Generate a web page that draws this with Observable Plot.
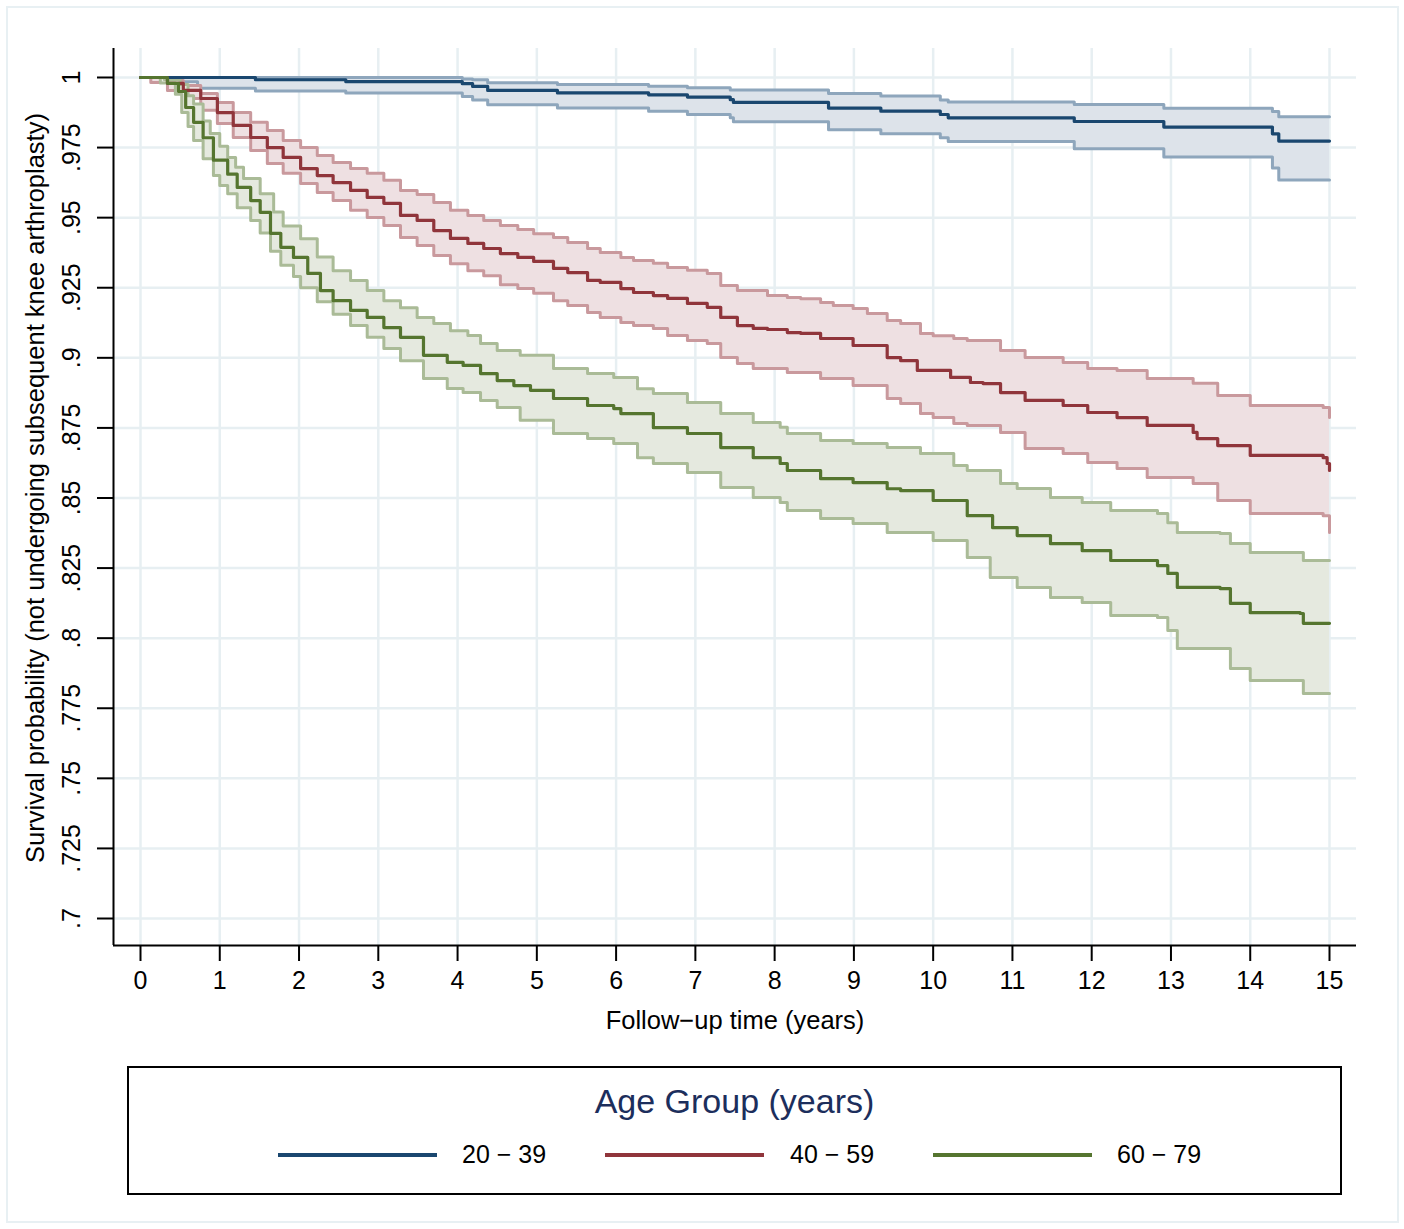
<!DOCTYPE html>
<html><head><meta charset="utf-8">
<script src="https://cdn.jsdelivr.net/npm/d3@7"></script>
<script src="https://cdn.jsdelivr.net/npm/@observablehq/plot@0.6"></script>
<style>
body{margin:0;background:#fff;font-family:"Liberation Sans",Arial,Helvetica,sans-serif;}
#wrap{position:relative;width:1404px;height:1229px;overflow:hidden;background:#fff;}
#chart{position:absolute;left:0;top:0;}
#frame{position:absolute;left:6px;top:6px;width:1393px;height:1217px;border:2px solid #e8f0f3;box-sizing:border-box;pointer-events:none;}
#legend{position:absolute;left:127px;top:1066px;width:1215px;height:129px;border:2px solid #000;box-sizing:border-box;}
#legend .title{position:absolute;left:0;top:16px;width:100%;text-align:center;font-size:34px;line-height:34px;color:#1c2e5c;}
#legend .sw{position:absolute;height:4px;top:85px;width:159px;}
#legend .lab{position:absolute;top:74px;font-size:25px;line-height:25px;color:#000;white-space:nowrap;}
</style>
</head><body>
<div id="wrap">
  <div id="chart"></div>
  <div id="legend"></div>
  <div id="frame"></div>
</div>
<script>
// ---------- data ----------
const groups = ["20 \u2212 39", "40 \u2212 59", "60 \u2212 79"];
const legendTitle = "Age Group (years)";
const xLabel = "Follow\u2212up time (years)";
const yLabel = "Survival probability (not undergoing subsequent knee arthroplasty)";
const xTicks = [0,1,2,3,4,5,6,7,8,9,10,11,12,13,14,15];
const yTicks = [0.7,0.725,0.75,0.775,0.8,0.825,0.85,0.875,0.9,0.925,0.95,0.975,1];
const yTickLabels = [".7",".725",".75",".775",".8",".825",".85",".875",".9",".925",".95",".975","1"];

// [time (years), survival]
const blueMain = [[0,1],[1.45,0.9992],[2.59,0.9985],[4.06,0.9978],[4.19,0.9968],[4.38,0.9954],[5.26,0.9945],[6.41,0.9938],[6.90,0.9930],[7.44,0.9921],[7.48,0.9911],[8.68,0.9891],[9.34,0.9880],[10.09,0.9868],[10.19,0.9856],[11.78,0.9843],[12.91,0.9823],[14.28,0.9799],[14.36,0.9773],[15,0.9773]];
const blueUpper = [[0,1],[4.06,0.9995],[4.19,0.9992],[4.38,0.9981],[5.26,0.9975],[6.41,0.9969],[6.90,0.9963],[7.44,0.9955],[8.68,0.9943],[9.34,0.9934],[10.09,0.9920],[10.19,0.9913],[11.78,0.9904],[12.91,0.9890],[14.28,0.9879],[14.36,0.9860],[15,0.9860]];
const blueLower = [[0,1],[0.3,0.9985],[0.72,0.9962],[1.45,0.9952],[2.59,0.9945],[4.06,0.9932],[4.19,0.9920],[4.38,0.9903],[5.26,0.9891],[6.41,0.9880],[6.90,0.9868],[7.44,0.9856],[7.48,0.9842],[8.68,0.9814],[9.34,0.9799],[10.09,0.9785],[10.19,0.9772],[11.78,0.9746],[12.91,0.9716],[14.28,0.9677],[14.36,0.9634],[15,0.9634]];

const redMain = [[0,1],[0.34,0.9979],[0.54,0.9954],[0.76,0.9925],[0.97,0.9875],[1.17,0.9829],[1.39,0.9786],[1.60,0.9750],[1.80,0.9715],[2.02,0.9675],[2.23,0.9650],[2.43,0.9625],[2.65,0.9597],[2.86,0.9572],[3.07,0.9551],[3.28,0.9508],[3.49,0.9490],[3.70,0.9454],[3.91,0.9426],[4.13,0.9408],[4.33,0.9390],[4.54,0.9372],[4.76,0.9358],[4.96,0.9344],[5.21,0.9319],[5.39,0.9304],[5.64,0.9276],[5.80,0.9269],[6.06,0.9247],[6.22,0.9233],[6.47,0.9222],[6.65,0.9212],[6.90,0.9194],[7.15,0.9180],[7.32,0.9144],[7.53,0.9115],[7.73,0.9105],[7.91,0.9101],[8.16,0.9090],[8.33,0.9087],[8.58,0.9069],[8.99,0.9044],[9.42,0.9001],[9.59,0.8990],[9.80,0.8955],[10.22,0.8930],[10.47,0.8912],[10.63,0.8908],[10.85,0.8876],[11.16,0.8848],[11.64,0.8830],[11.95,0.8805],[12.32,0.8787],[12.70,0.8759],[13.28,0.8734],[13.33,0.8712],[13.59,0.8687],[14.00,0.8652],[14.92,0.8644],[14.97,0.8623],[15,0.8598]];
const redUpper = [[0,1],[0.34,0.9989],[0.54,0.9971],[0.76,0.9943],[0.97,0.9911],[1.17,0.9875],[1.39,0.9840],[1.60,0.9811],[1.80,0.9775],[2.02,0.9750],[2.23,0.9722],[2.43,0.9697],[2.65,0.9675],[2.86,0.9658],[3.07,0.9633],[3.28,0.9597],[3.49,0.9583],[3.70,0.9554],[3.91,0.9526],[4.13,0.9508],[4.33,0.9490],[4.54,0.9472],[4.76,0.9458],[4.96,0.9443],[5.21,0.9429],[5.39,0.9411],[5.64,0.9390],[5.80,0.9376],[6.06,0.9358],[6.22,0.9347],[6.47,0.9337],[6.65,0.9322],[6.90,0.9312],[7.15,0.9301],[7.32,0.9258],[7.53,0.9240],[7.91,0.9222],[8.16,0.9215],[8.33,0.9211],[8.58,0.9197],[8.74,0.9187],[8.99,0.9176],[9.17,0.9158],[9.42,0.9133],[9.59,0.9122],[9.84,0.9087],[10.00,0.9079],[10.26,0.9069],[10.43,0.9062],[10.85,0.9026],[11.16,0.9001],[11.64,0.8983],[11.95,0.8962],[12.32,0.8955],[12.70,0.8926],[13.28,0.8909],[13.59,0.8866],[14.00,0.8830],[14.92,0.8823],[15,0.8787]];
const redLower = [[0,1],[0.13,0.9982],[0.34,0.9954],[0.54,0.9925],[0.76,0.9883],[0.97,0.9836],[1.17,0.9786],[1.39,0.9740],[1.60,0.9693],[1.80,0.9658],[2.02,0.9622],[2.23,0.9590],[2.43,0.9561],[2.65,0.9526],[2.86,0.9501],[3.07,0.9472],[3.28,0.9429],[3.49,0.9401],[3.70,0.9365],[3.91,0.9336],[4.13,0.9311],[4.33,0.9293],[4.54,0.9261],[4.76,0.9247],[4.96,0.9230],[5.21,0.9204],[5.39,0.9187],[5.64,0.9162],[5.80,0.9144],[6.06,0.9126],[6.22,0.9115],[6.47,0.9105],[6.65,0.9080],[6.90,0.9062],[7.15,0.9051],[7.32,0.9001],[7.53,0.8980],[7.73,0.8962],[8.16,0.8948],[8.58,0.8926],[8.99,0.8901],[9.42,0.8855],[9.59,0.8837],[9.84,0.8801],[10.00,0.8787],[10.26,0.8766],[10.43,0.8759],[10.85,0.8734],[11.16,0.8677],[11.64,0.8659],[11.95,0.8627],[12.32,0.8605],[12.70,0.8573],[13.28,0.8552],[13.59,0.8491],[14.00,0.8445],[14.92,0.8437],[15,0.8377]];

const greenMain = [[0,1],[0.34,0.9979],[0.48,0.9950],[0.57,0.9893],[0.67,0.9840],[0.79,0.9785],[0.92,0.9705],[1.10,0.9655],[1.22,0.9608],[1.39,0.9561],[1.51,0.9519],[1.64,0.9444],[1.77,0.9394],[1.93,0.9358],[2.11,0.9301],[2.27,0.9240],[2.43,0.9204],[2.65,0.9169],[2.86,0.9144],[3.07,0.9108],[3.28,0.9073],[3.57,0.9009],[3.87,0.8984],[4.07,0.8973],[4.29,0.8944],[4.50,0.8919],[4.71,0.8901],[4.92,0.8884],[5.21,0.8855],[5.64,0.8830],[5.97,0.8819],[6.06,0.8801],[6.47,0.8751],[6.90,0.8730],[7.32,0.8680],[7.73,0.8644],[8.07,0.8623],[8.16,0.8598],[8.58,0.8569],[8.99,0.8555],[9.42,0.8533],[9.59,0.8526],[10.00,0.8491],[10.43,0.8437],[10.75,0.8394],[11.06,0.8366],[11.48,0.8337],[11.88,0.8312],[12.24,0.8277],[12.83,0.8259],[12.96,0.8231],[13.08,0.8181],[13.62,0.8177],[13.75,0.8124],[14.00,0.8091],[14.63,0.8088],[14.67,0.8053],[15,0.8053]];
const greenUpper = [[0,1],[0.3,0.9993],[0.5,0.9975],[0.6,0.9935],[0.67,0.9905],[0.79,0.9845],[0.88,0.9800],[1.0,0.9755],[1.10,0.9715],[1.2,0.9680],[1.30,0.9640],[1.51,0.9585],[1.68,0.9520],[1.80,0.9470],[2.02,0.9425],[2.23,0.9360],[2.43,0.9311],[2.65,0.9276],[2.86,0.9240],[3.07,0.9204],[3.28,0.9179],[3.49,0.9144],[3.70,0.9122],[3.91,0.9097],[4.13,0.9080],[4.29,0.9051],[4.50,0.9026],[4.79,0.9009],[5.21,0.8962],[5.64,0.8944],[5.97,0.8930],[6.27,0.8890],[6.47,0.8873],[6.90,0.8841],[7.32,0.8801],[7.73,0.8769],[8.07,0.8752],[8.16,0.8730],[8.58,0.8705],[8.99,0.8694],[9.42,0.8680],[9.84,0.8659],[10.26,0.8616],[10.43,0.8598],[10.85,0.8552],[11.06,0.8534],[11.48,0.8502],[11.88,0.8484],[12.24,0.8455],[12.83,0.8445],[12.96,0.8412],[13.08,0.8377],[13.62,0.8373],[13.75,0.8338],[14.00,0.8306],[14.67,0.8277],[15,0.8277]];
const greenLower = [[0,1],[0.25,0.9980],[0.44,0.9940],[0.52,0.9875],[0.6,0.9825],[0.67,0.9775],[0.79,0.9710],[0.92,0.9650],[1.0,0.9615],[1.10,0.9585],[1.22,0.9535],[1.39,0.9490],[1.51,0.9445],[1.64,0.9380],[1.77,0.9330],[1.93,0.9290],[2.02,0.9250],[2.23,0.9200],[2.43,0.9155],[2.65,0.9115],[2.86,0.9073],[3.07,0.9033],[3.28,0.8990],[3.57,0.8926],[3.87,0.8891],[4.07,0.8876],[4.29,0.8848],[4.50,0.8823],[4.79,0.8777],[5.21,0.8730],[5.64,0.8712],[5.97,0.8694],[6.27,0.8644],[6.47,0.8623],[6.90,0.8591],[7.32,0.8537],[7.73,0.8502],[8.07,0.8484],[8.16,0.8455],[8.58,0.8427],[8.99,0.8409],[9.42,0.8377],[10.00,0.8348],[10.43,0.8288],[10.72,0.8216],[11.06,0.8181],[11.48,0.8145],[11.88,0.8127],[12.24,0.8081],[12.83,0.8074],[12.96,0.8027],[13.08,0.7963],[13.62,0.7963],[13.75,0.7892],[14.00,0.7849],[14.67,0.7803],[15,0.7803]];

// ---------- styling ----------
const colors = {
  blue:  {main:"#1a476f", ci:"#8ea6bc", fill:"#dde3ea"},
  red:   {main:"#90353b", ci:"#c9999d", fill:"#eee0e2"},
  green: {main:"#55752f", ci:"#aabb97", fill:"#e5e9df"}
};
const gridColor = "#e7eff2";
const xDomain = [-0.3406, 15.3406];
const yDomain = [0.69037, 1.01034];

function stepAt(s, t){ let v = s[0][1]; for (const [tt,vv] of s){ if (tt <= t) v = vv; else break; } return v; }
function band(lo, hi){
  const ts = Array.from(new Set([...lo.map(d=>d[0]), ...hi.map(d=>d[0])])).sort((a,b)=>a-b);
  return ts.map(t => ({t, lo: stepAt(lo,t), hi: stepAt(hi,t)}));
}
const series = [
  {c: colors.blue,  main: blueMain,  lo: blueLower,  hi: blueUpper},
  {c: colors.red,   main: redMain,   lo: redLower,   hi: redUpper},
  {c: colors.green, main: greenMain, lo: greenLower, hi: greenUpper}
];

const marks = [
  Plot.gridX(xTicks, {stroke: gridColor, strokeOpacity: 1, strokeWidth: 2.5}),
  Plot.gridY(yTicks, {stroke: gridColor, strokeOpacity: 1, strokeWidth: 2.5}),
];
for (const s of series){
  marks.push(Plot.areaY(band(s.lo, s.hi), {x:"t", y1:"lo", y2:"hi", fill: s.c.fill, curve:"step-after"}));
  marks.push(Plot.line(s.hi, {x: d=>d[0], y: d=>d[1], stroke: s.c.ci, strokeWidth: 3, curve:"step-after"}));
  marks.push(Plot.line(s.lo, {x: d=>d[0], y: d=>d[1], stroke: s.c.ci, strokeWidth: 3, curve:"step-after"}));
}
for (const s of series){
  marks.push(Plot.line(s.main, {x: d=>d[0], y: d=>d[1], stroke: s.c.main, strokeWidth: 3.2, curve:"step-after"}));
}
marks.push(
  Plot.ruleX([xDomain[0]], {stroke:"#000", strokeWidth: 2}),
  Plot.ruleY([yDomain[0]], {stroke:"#000", strokeWidth: 2}),
  Plot.axisX(xTicks, {tickSize: 16, tickPadding: 10, strokeWidth: 2, fontSize: 25, label: null}),
  Plot.axisY(yTicks, {tickSize: 16, tickFormat: () => "", strokeWidth: 2, label: null}),
  Plot.text(yTicks, {frameAnchor:"left", y: d=>d, text: (d,i)=>yTickLabels[i], rotate:-90, dx:-42, textAnchor:"middle", lineAnchor:"middle", fontSize:25, fill:"#000"}),
  Plot.text([yLabel], {frameAnchor:"left", dx:-78, dy:-9, rotate:-90, textAnchor:"middle", lineAnchor:"middle", fontSize:25.5, fill:"#000"}),
  Plot.text([xLabel], {frameAnchor:"bottom", dy:75, textAnchor:"middle", lineAnchor:"middle", fontSize:25.5, fill:"#000"})
);

const chart = Plot.plot({
  width: 1404, height: 1050,
  marginLeft: 113, marginRight: 48, marginTop: 48, marginBottom: 105,
  x: {domain: xDomain, axis: null},
  y: {domain: yDomain, axis: null},
  style: {fontFamily: '"Liberation Sans", Arial, Helvetica, sans-serif', fontSize: "25px", color: "#000", background: "transparent", overflow: "visible"},
  marks
});
document.getElementById("chart").appendChild(chart);

// ---------- legend ----------
const lg = document.getElementById("legend");
const t = document.createElement("div"); t.className = "title"; t.textContent = legendTitle; lg.appendChild(t);
const legendColors = [colors.blue.main, colors.red.main, colors.green.main];
const swLeft = [149, 476, 804], labLeft = [333, 661, 988];
groups.forEach((g, i) => {
  const sw = document.createElement("div"); sw.className = "sw"; sw.style.left = swLeft[i] + "px"; sw.style.background = legendColors[i]; lg.appendChild(sw);
  const lb = document.createElement("div"); lb.className = "lab"; lb.style.left = labLeft[i] + "px"; lb.textContent = g; lg.appendChild(lb);
});
</script>
</body></html>
